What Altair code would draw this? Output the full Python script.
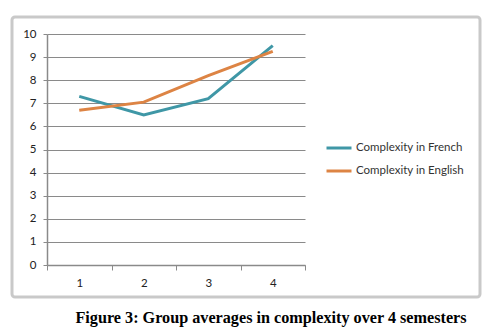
import altair as alt
import pandas as pd

semesters = ["1", "2", "3", "4"]
french = [7.3, 6.5, 7.2, 9.5]
english = [6.7, 7.05, 8.2, 9.25]
series_names = ["Complexity in French", "Complexity in English"]
colors = ["#3f97a6", "#dd8444"]
caption = "Figure 3: Group averages in complexity over 4 semesters"

rows = []
for s, f, e in zip(semesters, french, english):
    rows.append({"semester": s, "value": f, "series": series_names[0]})
    rows.append({"semester": s, "value": e, "series": series_names[1]})
df = pd.DataFrame(rows)

W, H = 258, 231
PL, PT = 47, 34

frame = alt.Chart(pd.DataFrame({"a": [0]})).mark_rect(
    fillOpacity=0, stroke="#c9c9c9", strokeWidth=3, cornerRadius=3
).encode(
    x=alt.value(12 - PL), x2=alt.value(480 - PL),
    y=alt.value(17 - PT), y2=alt.value(297 - PT)
)

lines = alt.Chart(df).mark_line(strokeWidth=3).encode(
    x=alt.X("semester:O", sort=semesters, title=None,
            scale=alt.Scale(paddingInner=0, paddingOuter=0),
            axis=alt.Axis(labelAngle=0, tickBand="extent", tickSize=5,
                          labelPadding=7, domainColor="#8a8a8a",
                          tickColor="#8a8a8a", labelFont="Lato",
                          labelFontSize=11.5, labelColor="#222222",
                          domainWidth=1.5, grid=False)),
    y=alt.Y("value:Q", title=None,
            scale=alt.Scale(domain=[0, 10], nice=False),
            axis=alt.Axis(values=list(range(0, 11)), tickSize=4,
                          labelPadding=7, domainColor="#8a8a8a",
                          tickColor="#8a8a8a", gridColor="#8a8a8a",
                          gridOpacity=1, grid=True,
                          labelFont="Lato", labelFontSize=11.5,
                          labelColor="#222222", domainWidth=1.5)),
    color=alt.Color("series:N", sort=series_names,
                    scale=alt.Scale(domain=series_names, range=colors),
                    legend=alt.Legend(title=None, orient="none",
                                      legendX=325 - PL, legendY=100,
                                      symbolType="stroke",
                                      symbolStrokeWidth=3, symbolSize=625,
                                      labelFont="Lato", labelFontSize=11.5,
                                      labelColor="#333333", labelOffset=3,
                                      rowPadding=3, padding=0)),
    order=alt.Order("semester:O")
)

cap = alt.Chart(pd.DataFrame({"t": [caption]})).mark_text(
    font="Liberation Serif", fontWeight="bold", fontSize=16.2, color="#000000",
    align="center", baseline="middle"
).encode(
    x=alt.value(271 - PL), y=alt.value(318 - PT), text="t:N"
)

chart = alt.layer(frame, lines, cap).properties(
    width=W, height=H,
    autosize=alt.AutoSizeParams(type="none"),
    padding={"left": PL, "top": PT, "right": 492 - PL - W, "bottom": 334 - PT - H},
    background="white"
).configure_view(stroke=None)

chart.save("out.html", embed_options={"renderer": "svg", "actions": False})
